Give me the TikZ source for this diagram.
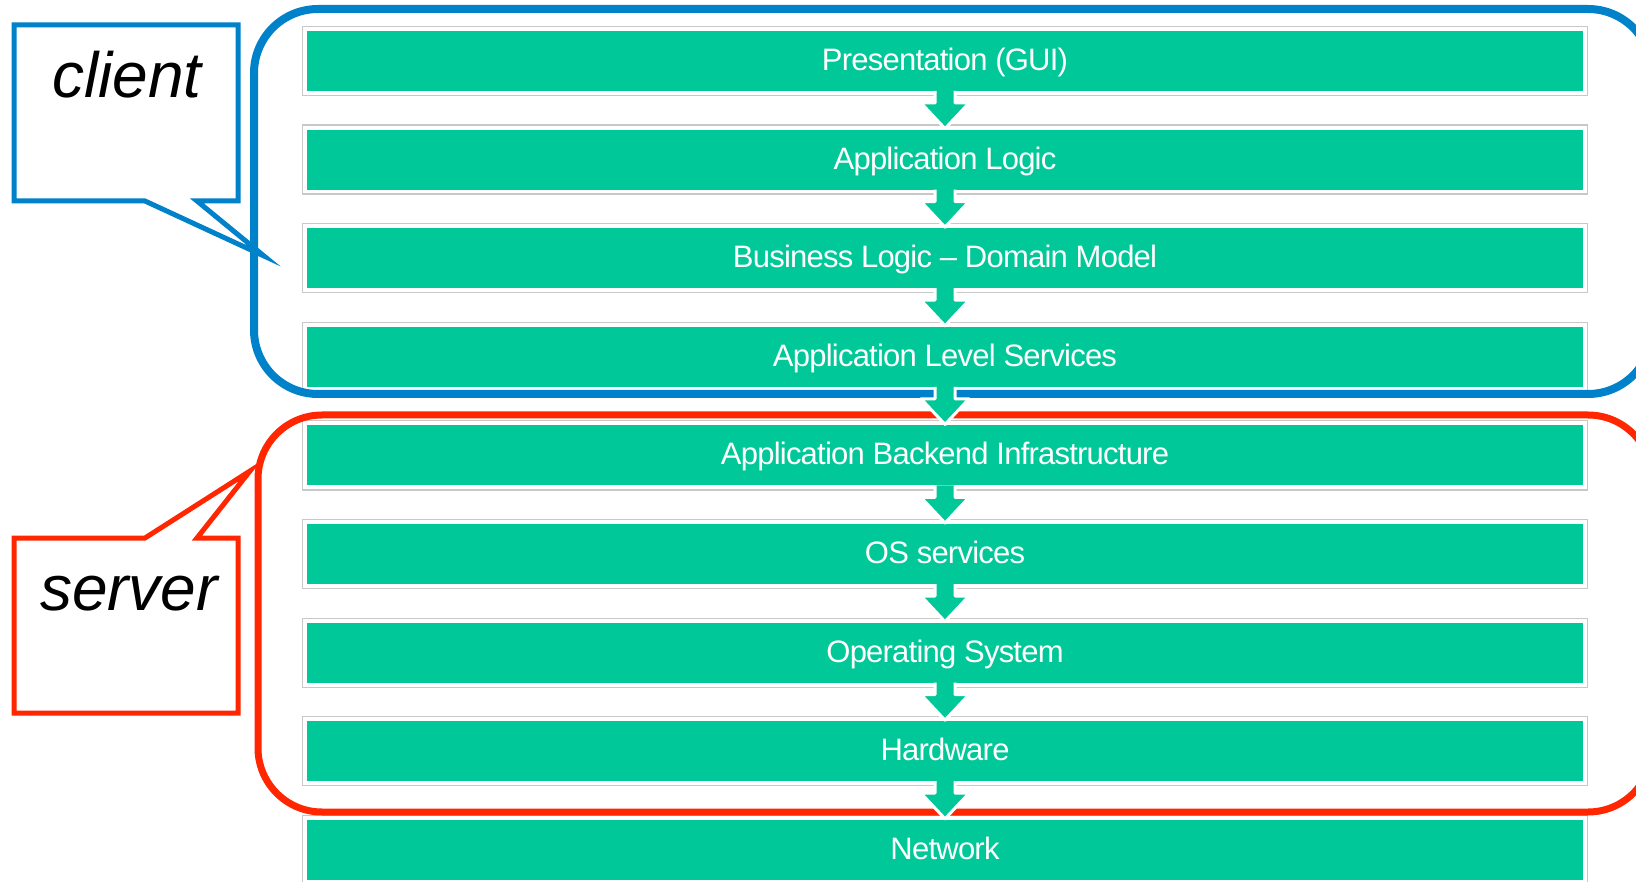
\documentclass[tikz,border=0pt]{standalone}
\usepackage{fontspec}
\setmainfont{Liberation Sans}
\newfontfamily\layerfont[LetterSpace=-2.5]{Liberation Sans}
\usetikzlibrary{calc,backgrounds}

\definecolor{layergreen}{RGB}{0,200,152}
\definecolor{clientblue}{RGB}{0,130,202}
\definecolor{serverred}{RGB}{255,38,0}
\definecolor{framegray}{RGB}{200,200,200}

% down arrow joining the bottom of one layer to the top of the next
\newcommand\flowarrow[2]{%
  \filldraw[flowarrowstyle]
    ($(#1.south)+(-10pt,0)$) -- ++(0,-12pt) -- ++(-14pt,0)
    -- ($(#2.north)+(0,1pt)$)
    -- ($(#1.south)+(24pt,-12pt)$) -- ++(-14pt,0) -- ++(0,12pt);%
}

\begin{document}
\begin{tikzpicture}[x=1pt,y=-1pt,
  layerbox/.style={fill=layergreen, text=white, minimum width=1276pt,
    minimum height=60pt, inner sep=0pt, outer sep=0pt,
    text height=22pt, text depth=3pt,
    font=\fontsize{31}{36}\layerfont},
  layerframe/.style={draw=framegray, line width=1.2pt, fill=white},
  flowarrowstyle/.style={fill=layergreen, draw=white, line width=3pt, line join=round},
  groupline/.style={line width=#1, rounded corners=64pt},
  callout/.style={line width=5pt, fill=white, line join=miter},
  callouttext/.style={anchor=base, inner sep=0pt, font=\fontsize{64}{72}\selectfont\itshape}]

\useasboundingbox (0,0) rectangle (1636,882);

% the nine layers of the stack
\foreach \name/\label [count=\i from 0] in {
    gui/Presentation (GUI),
    applogic/Application Logic,
    business/Business Logic – Domain Model,
    appservices/Application Level Services,
    backend/Application Backend Infrastructure,
    ossvc/OS services,
    os/Operating System,
    hw/Hardware,
    net/Network}
  \node[layerbox] (\name) at (945, 61+98.6*\i) {\label};

% light frames behind each layer, then the client and server groups
\begin{pgfonlayer}{background}
  \foreach \n in {gui,applogic,business,appservices,backend,ossvc,os,hw,net}
    \draw[layerframe] ([shift={(-4.5pt,4.5pt)}]\n.north west)
      rectangle ([shift={(4.5pt,-4.5pt)}]\n.south east);
  \draw[groupline=8pt, draw=clientblue] (254,9) rectangle (1652,394);
  \draw[groupline=7pt, draw=serverred] (258,415) rectangle (1652,812);
\end{pgfonlayer}

% arrows down the stack
\foreach \a/\b in {gui/applogic, applogic/business, business/appservices,
    appservices/backend, backend/ossvc, ossvc/os, os/hw, hw/net}
  \flowarrow{\a}{\b};

% callouts
\draw[callout, draw=clientblue]
  (14,25) -- (238,25) -- (238,201) -- (197,201) -- (264,256)
  -- (145,201) -- (14,201) -- cycle;
\node[callouttext] (client) at (127,98) {client};

\draw[callout, draw=serverred]
  (14,538) -- (145,538) -- (250,471) -- (197,538) -- (238,538)
  -- (238,713) -- (14,713) -- cycle;
\node[callouttext] (server) at (129,610) {server};

\end{tikzpicture}
\end{document}
